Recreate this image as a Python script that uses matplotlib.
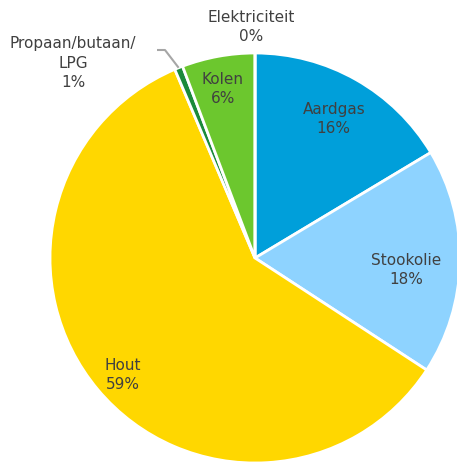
import numpy as np
import matplotlib
matplotlib.use("Agg")
import matplotlib.pyplot as plt

# ── Data (clockwise from 12 o'clock) ──────────────────────────────────
categories = ["Aardgas", "Stookolie", "Hout", "Propaan/butaan/\nLPG", "Kolen", "Elektriciteit"]
shares = [16.4, 17.8, 59.4, 0.65, 5.75, 0.0]

colors = ["#009FDA", "#8ED3FF", "#FFD700", "#1B8A3A", "#6CC72E", "#9E9E9E"]
TEXT = "#404040"
FS = 11
LS = 1.35

# figure in pixel units: 457 x 462
W, H = 457, 462
fig = plt.figure(figsize=(W / 100, H / 100), dpi=100)
ax = fig.add_axes([0, 0, 1, 1])

cx, cy, r = 255, H - 258, 205
wedges, _ = ax.pie(shares, colors=colors, startangle=90, counterclock=False,
                   radius=r, center=(cx, cy), frame=True,
                   wedgeprops=dict(edgecolor="white", linewidth=2))
ax.set_xlim(0, W)
ax.set_ylim(0, H)
ax.set_aspect("equal")
ax.axis("off")

# inside labels: (fraction of radius, angle offset in degrees)
label_pos = {0: (0.78, 0), 1: (0.74, -3.5), 2: (0.86, 1.5), 4: (0.84, 0.5)}
for i, w in enumerate(wedges):
    if i not in label_pos:
        continue
    frac, off = label_pos[i]
    ang = np.deg2rad((w.theta1 + w.theta2) / 2 + off)
    d = frac * r
    ax.text(cx + d * np.cos(ang), cy + d * np.sin(ang),
            f"{categories[i]}\n{round(shares[i]):.0f}%",
            ha="center", va="center", fontsize=FS, color=TEXT, linespacing=LS)

# outside labels
w = wedges[3]
ang = np.deg2rad((w.theta1 + w.theta2) / 2)
x0, y0 = cx + r * np.cos(ang), cy + r * np.sin(ang)
ax.plot([x0, 165, 157], [y0, H - 50, H - 50], color="#A6A6A6", lw=1.5,
        solid_capstyle="butt")
ax.text(73, H - 63, f"{categories[3]}\n{round(shares[3]):.0f}%",
        ha="center", va="center", fontsize=FS, color=TEXT, linespacing=LS)

ax.text(251, H - 27, f"{categories[5]}\n{round(shares[5]):.0f}%",
        ha="center", va="center", fontsize=FS, color=TEXT, linespacing=LS)

fig.savefig("out.png", dpi=100)
